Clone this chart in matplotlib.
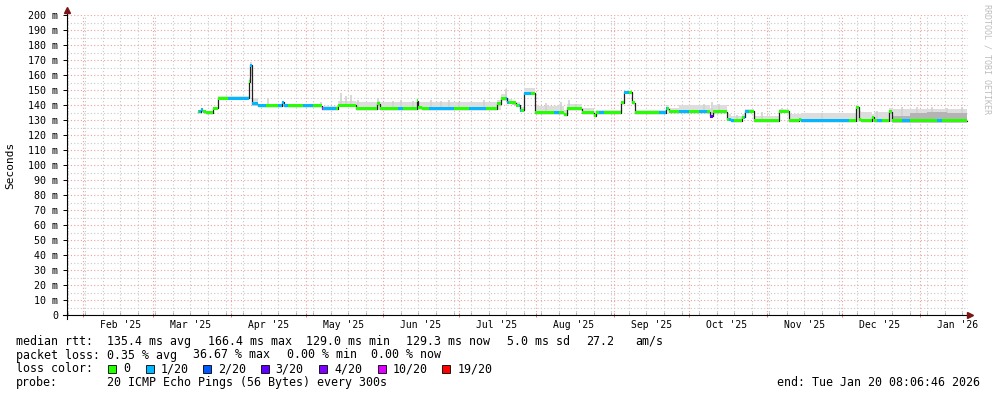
import numpy as np
import pandas as pd
import matplotlib
matplotlib.use("Agg")
import matplotlib.pyplot as plt
import matplotlib.dates as mdates
from matplotlib.lines import Line2D
from matplotlib.patches import Rectangle
from matplotlib.transforms import blended_transform_factory

# median rtt (ms) as step changes, with smoke (min / max ping) per step
med_dates = ['2025-03-19 00:00', '2025-03-20 00:00', '2025-03-21 00:00', '2025-03-22 00:00',
             '2025-03-25 00:00', '2025-03-27 00:00', '2025-04-08 06:00', '2025-04-08 18:00',
             '2025-04-09 16:00', '2025-04-12 00:00', '2025-04-21 12:00', '2025-04-22 12:00',
             '2025-05-07 16:00', '2025-05-14 00:00', '2025-05-21 00:00', '2025-05-29 12:00',
             '2025-05-30 12:00', '2025-06-14 06:00', '2025-06-15 00:00', '2025-06-16 12:00',
             '2025-07-16 12:00', '2025-07-17 18:00', '2025-07-20 06:00', '2025-07-22 12:00',
             '2025-07-23 18:00', '2025-07-25 12:00', '2025-07-27 00:00', '2025-07-31 12:00',
             '2025-08-12 00:00', '2025-08-13 06:00', '2025-08-19 06:00', '2025-08-24 00:00',
             '2025-08-25 00:00', '2025-09-04 00:00', '2025-09-05 00:00', '2025-09-08 06:00',
             '2025-09-09 12:00', '2025-09-21 18:00', '2025-09-23 00:00', '2025-09-27 00:00',
             '2025-10-09 12:00', '2025-10-10 18:00', '2025-10-16 06:00', '2025-10-17 18:00',
             '2025-10-22 00:00', '2025-10-23 12:00', '2025-10-27 00:00', '2025-11-06 00:00',
             '2025-11-09 18:00', '2025-11-13 18:00', '2025-11-14 18:00', '2025-12-06 18:00',
             '2025-12-07 18:00', '2025-12-08 12:00', '2025-12-13 00:00', '2025-12-14 00:00',
             '2025-12-20 00:00', '2025-12-21 00:00', '2026-01-19 18:00']
med_ms = [135.5, 137.0, 135.5, 135.0, 138.0, 144.5, 155.5, 166.5,
          141.0, 139.5, 142.0, 139.5, 137.5, 140.0, 137.5, 141.0,
          137.5, 143.0, 138.5, 137.5, 141.0, 144.5, 142.0, 141.5,
          140.0, 136.5, 148.0, 135.0, 133.5, 137.5, 135.0, 133.0,
          135.0, 141.5, 148.5, 141.5, 135.0, 137.5, 135.5, 135.5,
          132.5, 135.5, 130.5, 129.5, 132.0, 136.0, 129.5, 136.0,
          129.5, 130.5, 129.5, 138.5, 130.5, 129.5, 132.0, 129.5,
          135.5, 129.5, 129.5]
smoke_lo = [134.5, 135.5, 134.5, 134.0, 137.0, 143.5, 150.0, 160.0,
            139.5, 138.5, 139.0, 138.5, 136.5, 139.0, 136.5, 137.0,
            136.5, 137.0, 137.0, 136.5, 137.0, 143.0, 141.0, 140.0,
            139.0, 135.5, 147.0, 134.0, 133.0, 136.5, 134.0, 132.5,
            134.0, 140.5, 147.5, 140.5, 134.0, 136.5, 134.5, 134.5,
            132.0, 134.5, 129.5, 128.5, 131.0, 135.0, 128.5, 135.0,
            128.5, 129.5, 128.5, 129.0, 129.0, 128.5, 129.0, 128.5,
            129.0, 128.0, 128.0]
smoke_hi = [136.5, 138.0, 136.5, 136.0, 139.0, 146.0, 158.0, 168.5,
            145.0, 141.0, 143.0, 141.0, 139.5, 143.0, 142.0, 142.5,
            142.0, 144.0, 142.0, 142.0, 143.5, 147.5, 144.0, 143.0,
            142.0, 139.0, 151.5, 139.5, 137.0, 141.0, 138.0, 136.0,
            137.0, 143.0, 149.5, 142.5, 137.0, 139.0, 138.0, 140.0,
            138.0, 140.0, 134.0, 133.0, 134.0, 137.5, 133.0, 137.5,
            134.0, 134.0, 134.5, 140.0, 136.0, 135.5, 134.0, 135.5,
            138.0, 137.5, 137.5]

# denser smoke at the end of the period
dark_dates = ['2025-12-21 00:00', '2025-12-28 00:00', '2026-01-04 00:00', '2026-01-12 00:00',
              '2026-01-19 18:00']
dark_lo = [128.5, 128.5, 128.5, 128.5, 128.5]
dark_hi = [133.0, 134.5, 135.5, 134.5, 134.5]

# single tall pings in the smoke
spike_dates = ['2025-04-16', '2025-05-07', '2025-05-15', '2025-05-17', '2025-05-19', '2025-05-22',
               '2025-05-30', '2025-06-05', '2025-06-08', '2025-06-13', '2025-06-20', '2025-06-24',
               '2025-06-27', '2025-07-01', '2025-07-11', '2025-07-20', '2025-08-05', '2025-08-11',
               '2025-08-14', '2025-08-17', '2025-09-22', '2025-10-07', '2025-10-10', '2025-10-13',
               '2025-10-20', '2025-10-30', '2025-11-07', '2025-11-23', '2025-12-15', '2025-12-25',
               '2025-12-31', '2026-01-06', '2026-01-12', '2026-01-18']
spike_top = [144.5, 142.0, 148.0, 146.0, 147.0, 143.5, 145.0, 143.0, 143.5, 143.0, 143.5, 143.0,
             143.5, 142.0, 143.5, 151.0, 141.5, 142.0, 143.5, 141.0, 140.0, 141.0, 142.0, 141.0,
             133.5, 135.5, 138.0, 134.5, 136.0, 139.0, 138.5, 139.0, 138.0, 139.0]

# periods with packet loss (loss level out of 20), rest is 0
loss_start = ['2025-03-19 12:00', '2025-03-31 00:00', '2025-04-08 18:00', '2025-04-20 00:00',
              '2025-04-30 00:00', '2025-05-07 08:00', '2025-05-08 00:00', '2025-06-07 00:00',
              '2025-06-19 00:00', '2025-07-05 00:00', '2025-07-20 00:00', '2025-07-25 00:00',
              '2025-07-27 00:00', '2025-08-08 00:00', '2025-08-26 00:00', '2025-09-05 00:00',
              '2025-09-19 00:00', '2025-09-27 00:00', '2025-10-05 00:00', '2025-10-09 12:00',
              '2025-10-17 00:00', '2025-10-23 00:00', '2025-11-14 18:00', '2025-12-15 00:00',
              '2025-12-25 00:00', '2026-01-08 00:00']
loss_end = ['2025-03-21 00:00', '2025-04-08 06:00', '2025-04-15 00:00', '2025-04-24 00:00',
            '2025-05-04 00:00', '2025-05-08 00:00', '2025-05-13 00:00', '2025-06-09 00:00',
            '2025-06-29 00:00', '2025-07-12 00:00', '2025-07-21 00:00', '2025-07-26 00:00',
            '2025-07-30 00:00', '2025-08-10 00:00', '2025-08-28 00:00', '2025-09-07 00:00',
            '2025-09-22 00:00', '2025-10-01 00:00', '2025-10-08 00:00', '2025-10-10 18:00',
            '2025-10-19 00:00', '2025-10-25 00:00', '2025-12-04 00:00', '2025-12-17 00:00',
            '2025-12-28 00:00', '2026-01-10 00:00']
loss_level = [1, 1, 1, 1, 1, 10, 1, 1, 1, 1, 1, 1, 1, 1, 1, 1, 1, 1, 1, 3, 1, 1, 1, 1, 1, 1]

loss_labels = ['0', '1/20', '2/20', '3/20', '4/20', '10/20', '19/20']
loss_values = [0, 1, 2, 3, 4, 10, 19]
loss_colors = ['#26ff00', '#00b8ff', '#0059ff', '#5e00ff', '#7e00ff', '#dd00ff', '#ff0000']

months = ['2025-02-01', '2025-03-01', '2025-04-01', '2025-05-01', '2025-06-01', '2025-07-01',
          '2025-08-01', '2025-09-01', '2025-10-01', '2025-11-01', '2025-12-01', '2026-01-01']

W, H = 997, 397
MONO = 'DejaVu Sans Mono'


def num(d):
    return mdates.date2num(pd.to_datetime(d, format='mixed'))


def fx(x):
    return x / W


def fy(y):
    return 1 - y / H


md = num(med_dates)
med = np.array(med_ms)

fig = plt.figure(figsize=(W / 100, H / 100), dpi=100)
fig.patch.set_facecolor('white')
ax = fig.add_axes([fx(67), fy(315), 901 / W, 300 / H])
ax.set_xlim(num('2025-01-25 17:00'), num('2026-01-20 08:06'))
ax.set_ylim(0, 200)

# smoke
ax.fill_between(md, smoke_lo, smoke_hi, step='post', color='#dddddd', lw=0, zorder=1)
sd = num(spike_dates)
idx = np.searchsorted(md, sd, side='right') - 1
ax.vlines(sd, med[idx], spike_top, color='#d2d2d2', lw=1.2, zorder=1.2)
ax.fill_between(num(dark_dates), dark_lo, dark_hi, step='post', color='#b4b4b4', lw=0, zorder=1.4)

# median line
ax.step(md, med, where='post', color='#202020', lw=0.9, zorder=3)


def paint(a, b, color):
    for t0, t1, v in zip(md[:-1], md[1:], med[:-1]):
        lo, hi = max(t0, a), min(t1, b)
        if hi > lo:
            ax.fill_between([lo, hi], v - 1.0, v + 1.0, color=color, lw=0, zorder=4)


paint(md[0], md[-1], loss_colors[0])
for s, e, lv in zip(num(loss_start), num(loss_end), loss_level):
    paint(s, e, loss_colors[loss_values.index(lv)])

# grid
for sp in ax.spines.values():
    sp.set_visible(False)
ax.set_yticks(range(0, 201, 10))
ax.set_yticks(range(0, 201, 5), minor=True)
ax.set_yticklabels(['0'] + ['%d m' % v for v in range(10, 201, 10)], family=MONO, fontsize=7.2)
ax.xaxis.set_major_locator(mdates.MonthLocator())
ax.xaxis.set_minor_locator(mdates.WeekdayLocator(byweekday=mdates.SU))
ax.xaxis.set_major_formatter(plt.NullFormatter())
ax.tick_params(axis='y', which='major', length=3, direction='out', pad=3.4, width=0.7)
ax.tick_params(axis='y', which='minor', length=0)
ax.tick_params(axis='x', which='major', length=3, direction='inout', width=0.7, colors='#e07070')
ax.tick_params(axis='x', which='minor', length=2, direction='in', width=0.7, colors='#b0b0b0')
ax.grid(which='major', color='#eba0a0', linestyle=(0, (1, 2)), lw=0.8)
ax.grid(which='minor', color='#c8c8c8', linestyle=(0, (1, 2)), lw=0.8)
ax.set_axisbelow(True)

tr = blended_transform_factory(ax.transData, ax.transAxes)
for m in months:
    t = pd.to_datetime(m)
    ax.text(num(t + pd.Timedelta(days=15)), -10 / 300, t.strftime("%b '%y"),
            transform=tr, ha='center', va='center', family=MONO, fontsize=7)

# axes with arrows
fig.add_artist(Line2D([fx(67), fx(67)], [fy(319), fy(12)], color='black', lw=0.8))
fig.add_artist(Line2D([fx(63), fx(968)], [fy(315), fy(315)], color='black', lw=0.8))
fig.add_artist(Line2D([fx(67)], [fy(10)], marker='^', color='#7a1515', markersize=4))
fig.add_artist(Line2D([fx(970)], [fy(315)], marker='>', color='#7a1515', markersize=4))

fig.text(fx(10), fy(165), 'Seconds', rotation=90, family=MONO, fontsize=8,
         ha='center', va='center')
fig.text(fx(987), fy(4), 'RRDTOOL / TOBI OETIKER', rotation=270, family=MONO, fontsize=6,
         color='#bdbdbd', ha='center', va='top')

# legend
FS = 8.4
rows = [
    (341.5, [(16, 'median rtt:'), (107, '135.4 ms avg'), (207.5, '166.4 ms max'),
             (306.5, '129.0 ms min'), (406.5, '129.3 ms now'), (507, '5.0 ms sd'),
             (586.5, '27.2'), (635, 'am/s')]),
    (355, [(16, 'packet loss:'), (107, '0.35 % avg'), (193.3, '36.67 % max'),
           (286.7, '0.00 % min'), (370.7, '0.00 % now')]),
    (369, [(16, 'loss color:')]),
    (382.5, [(16, 'probe:'), (107, '20 ICMP Echo Pings (56 Bytes) every 300s')]),
]
for y, parts in rows:
    for x, s in parts:
        fig.text(fx(x), fy(y), s, family=MONO, fontsize=FS, ha='left', va='center')

sq_x = [108.3, 145.7, 203.3, 260.7, 319.3, 377.7, 442.3]
for x, lab, c in zip(sq_x, loss_labels, loss_colors):
    fig.add_artist(Rectangle((fx(x), fy(373)), 8 / W, 8 / H, facecolor=c,
                             edgecolor='black', lw=0.6))
    fig.text(fx(x + 15), fy(369), lab, family=MONO, fontsize=FS, ha='left', va='center')

fig.text(fx(980), fy(382.5), 'end: Tue Jan 20 08:06:46 2026', family=MONO, fontsize=FS,
         ha='right', va='center')

fig.savefig('out.png', dpi=100, facecolor='white')
